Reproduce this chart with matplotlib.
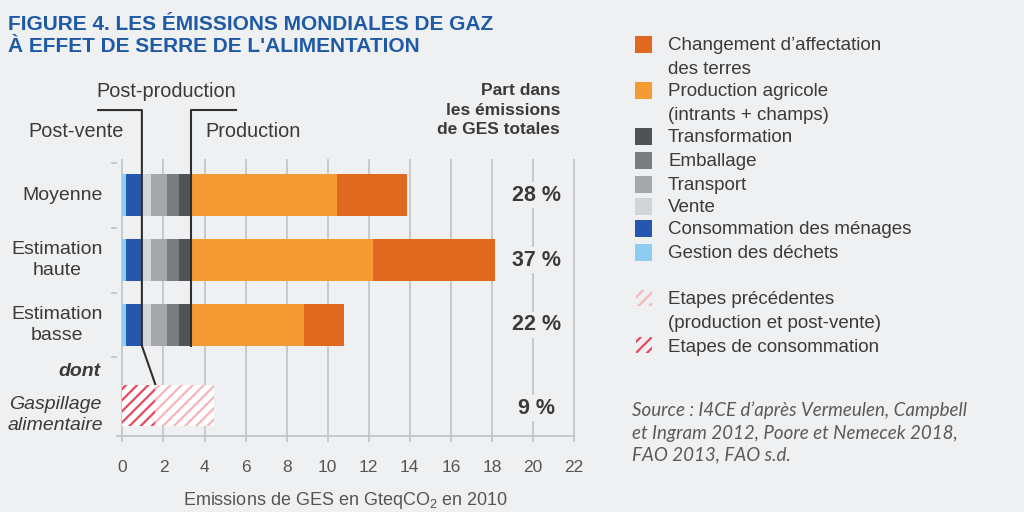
import matplotlib
matplotlib.use("Agg")
import matplotlib.pyplot as plt
from matplotlib.patches import Rectangle

# --- data (GteqCO2, 2010) ---
scenarios = ["Moyenne", "Estimation\nhaute", "Estimation\nbasse"]
dechets = [0.2, 0.2, 0.2]
consommation = [0.75, 0.75, 0.75]
vente = [0.43, 0.43, 0.43]
transport = [0.78, 0.78, 0.78]
emballage = [0.62, 0.62, 0.62]
transformation = [0.57, 0.57, 0.57]
production_agricole = [7.09, 8.88, 5.52]
changement_terres = [3.41, 5.92, 1.94]
parts = ["28 %", "37 %", "22 %"]

gaspillage_consommation = 1.6
gaspillage_precedentes = 2.88
gaspillage_part = "9 %"

xticks = list(range(0, 23, 2))

BG = "#eff0f2"
TXT = "#3a3a3a"
colors = {
    "chg": "#e0691f",
    "prod": "#f69a33",
    "transfo": "#4f5257",
    "emb": "#7b7c80",
    "transp": "#a6a7aa",
    "vente": "#d3d4d6",
    "conso": "#2756ae",
    "dechets": "#8ecdf1",
    "hatch_conso": "#e8485d",
    "hatch_prec": "#f6b6b8",
}

plt.rcParams["font.family"] = ["Liberation Sans", "DejaVu Sans"]
plt.rcParams["mathtext.fontset"] = "custom"
plt.rcParams["mathtext.rm"] = "Liberation Sans"
plt.rcParams["hatch.linewidth"] = 1.6

fig = plt.figure(figsize=(10.24, 5.12), dpi=100, facecolor=BG)
ax = fig.add_axes([0.1145, 0.1484, 0.4461, 0.539], facecolor=BG)
W, H = 1024, 512

ypos = [0, 1, 2]
y_gasp = 3.24
h = 0.646

segments = [
    (dechets, colors["dechets"]),
    (consommation, colors["conso"]),
    (vente, colors["vente"]),
    (transport, colors["transp"]),
    (emballage, colors["emb"]),
    (transformation, colors["transfo"]),
    (production_agricole, colors["prod"]),
    (changement_terres, colors["chg"]),
]

# gridlines
for t in xticks:
    ax.plot([t, t], [-0.54, 3.71], color="#c4c5c7", lw=1.3, zorder=1, clip_on=False)

left = [0.0] * len(scenarios)
for vals, col in segments:
    ax.barh(ypos, vals, left=left, height=h, color=col, edgecolor="none", zorder=3)
    left = [l + v for l, v in zip(left, vals)]

ax.barh([y_gasp], [gaspillage_consommation], height=h, color="white",
        edgecolor=colors["hatch_conso"], hatch="///", linewidth=0, zorder=3)
ax.barh([y_gasp], [gaspillage_precedentes], left=[gaspillage_consommation], height=h,
        color="white", edgecolor=colors["hatch_prec"], hatch="///", linewidth=0, zorder=3)

# percentages
for y, p in zip(ypos + [y_gasp + 0.04], parts + [gaspillage_part]):
    ax.text(20.15, y, p, ha="center", va="center", fontsize=15.5, fontweight="bold", color=TXT,
            zorder=5, bbox=dict(facecolor=BG, edgecolor="none", pad=2))

ax.text(21.32, -1.31, "Part dans\nles émissions\nde GES totales", ha="right", va="center",
        fontsize=12.5, fontweight="bold", color=TXT, linespacing=1.35)

# category labels
for y, s in zip(ypos, scenarios):
    ax.text(-0.94, y, s, ha="right", va="center", multialignment="center", fontsize=14,
            color=TXT, linespacing=1.3)
ax.text(-1.05, 2.72, "dont", ha="right", va="center", fontsize=14, fontweight="bold",
        fontstyle="italic", color=TXT)
ax.text(-0.94, 3.39, "Gaspillage\nalimentaire", ha="right", va="center", multialignment="center",
        fontsize=14, fontstyle="italic", color=TXT, linespacing=1.3)

# stage brackets
lc = "#2f2f2f"
ax.plot([-1.18, 0.95, 0.95, 1.6], [-1.31, -1.31, 2.32, 2.91], color=lc, lw=1.5, zorder=4, clip_on=False)
ax.plot([5.54, 3.35, 3.35], [-1.31, -1.31, 2.32], color=lc, lw=1.5, zorder=4, clip_on=False)
ax.text(2.13, -1.6, "Post-production", ha="center", va="center", fontsize=14.3, color=TXT)
ax.text(-2.25, -0.98, "Post-vente", ha="center", va="center", fontsize=14.3, color=TXT)
ax.text(4.04, -0.98, "Production", ha="left", va="center", fontsize=14.3, color=TXT)

ax.set_xlim(-0.25, 22)
ax.set_ylim(3.71, -0.54)
for s in ["top", "right", "left"]:
    ax.spines[s].set_visible(False)
ax.spines["bottom"].set_color("#c4c5c7")
ax.spines["bottom"].set_linewidth(1.3)
ax.set_yticks([-0.5, 0.5, 1.5, 2.5])
ax.set_yticklabels([])
ax.tick_params(axis="y", length=4, color="#c4c5c7", width=1.3)
ax.set_xticks(xticks)
ax.tick_params(axis="x", length=4, color="#c4c5c7", width=1.3, pad=13, labelsize=12.5,
               labelcolor="#555555")
ax.set_xlabel(r"Emissions de GES en GteqCO$_2$ en 2010", fontsize=13, color="#555555", labelpad=11)

# title
for ypix, line in [(24, "FIGURE 4. LES ÉMISSIONS MONDIALES DE GAZ"),
                   (47, "À EFFET DE SERRE DE L'ALIMENTATION")]:
    fig.text(8 / W, 1 - ypix / H, line, ha="left", va="center", fontsize=15,
             fontweight="bold", color="#1f5aa6")

# legend
legend_items = [
    (44, ["Changement d’affectation", "des terres"], colors["chg"], None),
    (90, ["Production agricole", "(intrants + champs)"], colors["prod"], None),
    (136, ["Transformation"], colors["transfo"], None),
    (160, ["Emballage"], colors["emb"], None),
    (184, ["Transport"], colors["transp"], None),
    (206, ["Vente"], colors["vente"], None),
    (228, ["Consommation des ménages"], colors["conso"], None),
    (252, ["Gestion des déchets"], colors["dechets"], None),
    (298, ["Etapes précédentes", "(production et post-vente)"], colors["hatch_prec"], "///"),
    (345, ["Etapes de consommation"], colors["hatch_conso"], "///"),
]
for ypix, lines, col, hatch in legend_items:
    if hatch is None:
        r = Rectangle((635 / W, 1 - (ypix + 8.5) / H), 17 / W, 17 / H, transform=fig.transFigure,
                      facecolor=col, edgecolor="none")
    else:
        r = Rectangle((636 / W, 1 - (ypix + 8) / H), 16 / W, 16 / H, transform=fig.transFigure,
                      facecolor="none", edgecolor=col, hatch=hatch, linewidth=0)
    fig.add_artist(r)
    for i, line in enumerate(lines):
        fig.text(668 / W, 1 - (ypix + 2 + 23 * i) / H, line, ha="left", va="center",
                 fontsize=13.5, color=TXT)

# source
source_lines = ["Source : I4CE d’après Vermeulen, Campbell",
                "et Ingram 2012, Poore et Nemecek 2018,",
                "FAO 2013, FAO s.d."]
for ypix, line in zip([410, 433, 455], source_lines):
    fig.text(632 / W, 1 - ypix / H, line, ha="left", va="center", fontsize=13.5,
             fontstyle="italic", color="#5a5a5a", family=["Lato", "Liberation Sans"])

fig.savefig("out.png", dpi=100, facecolor=BG)
